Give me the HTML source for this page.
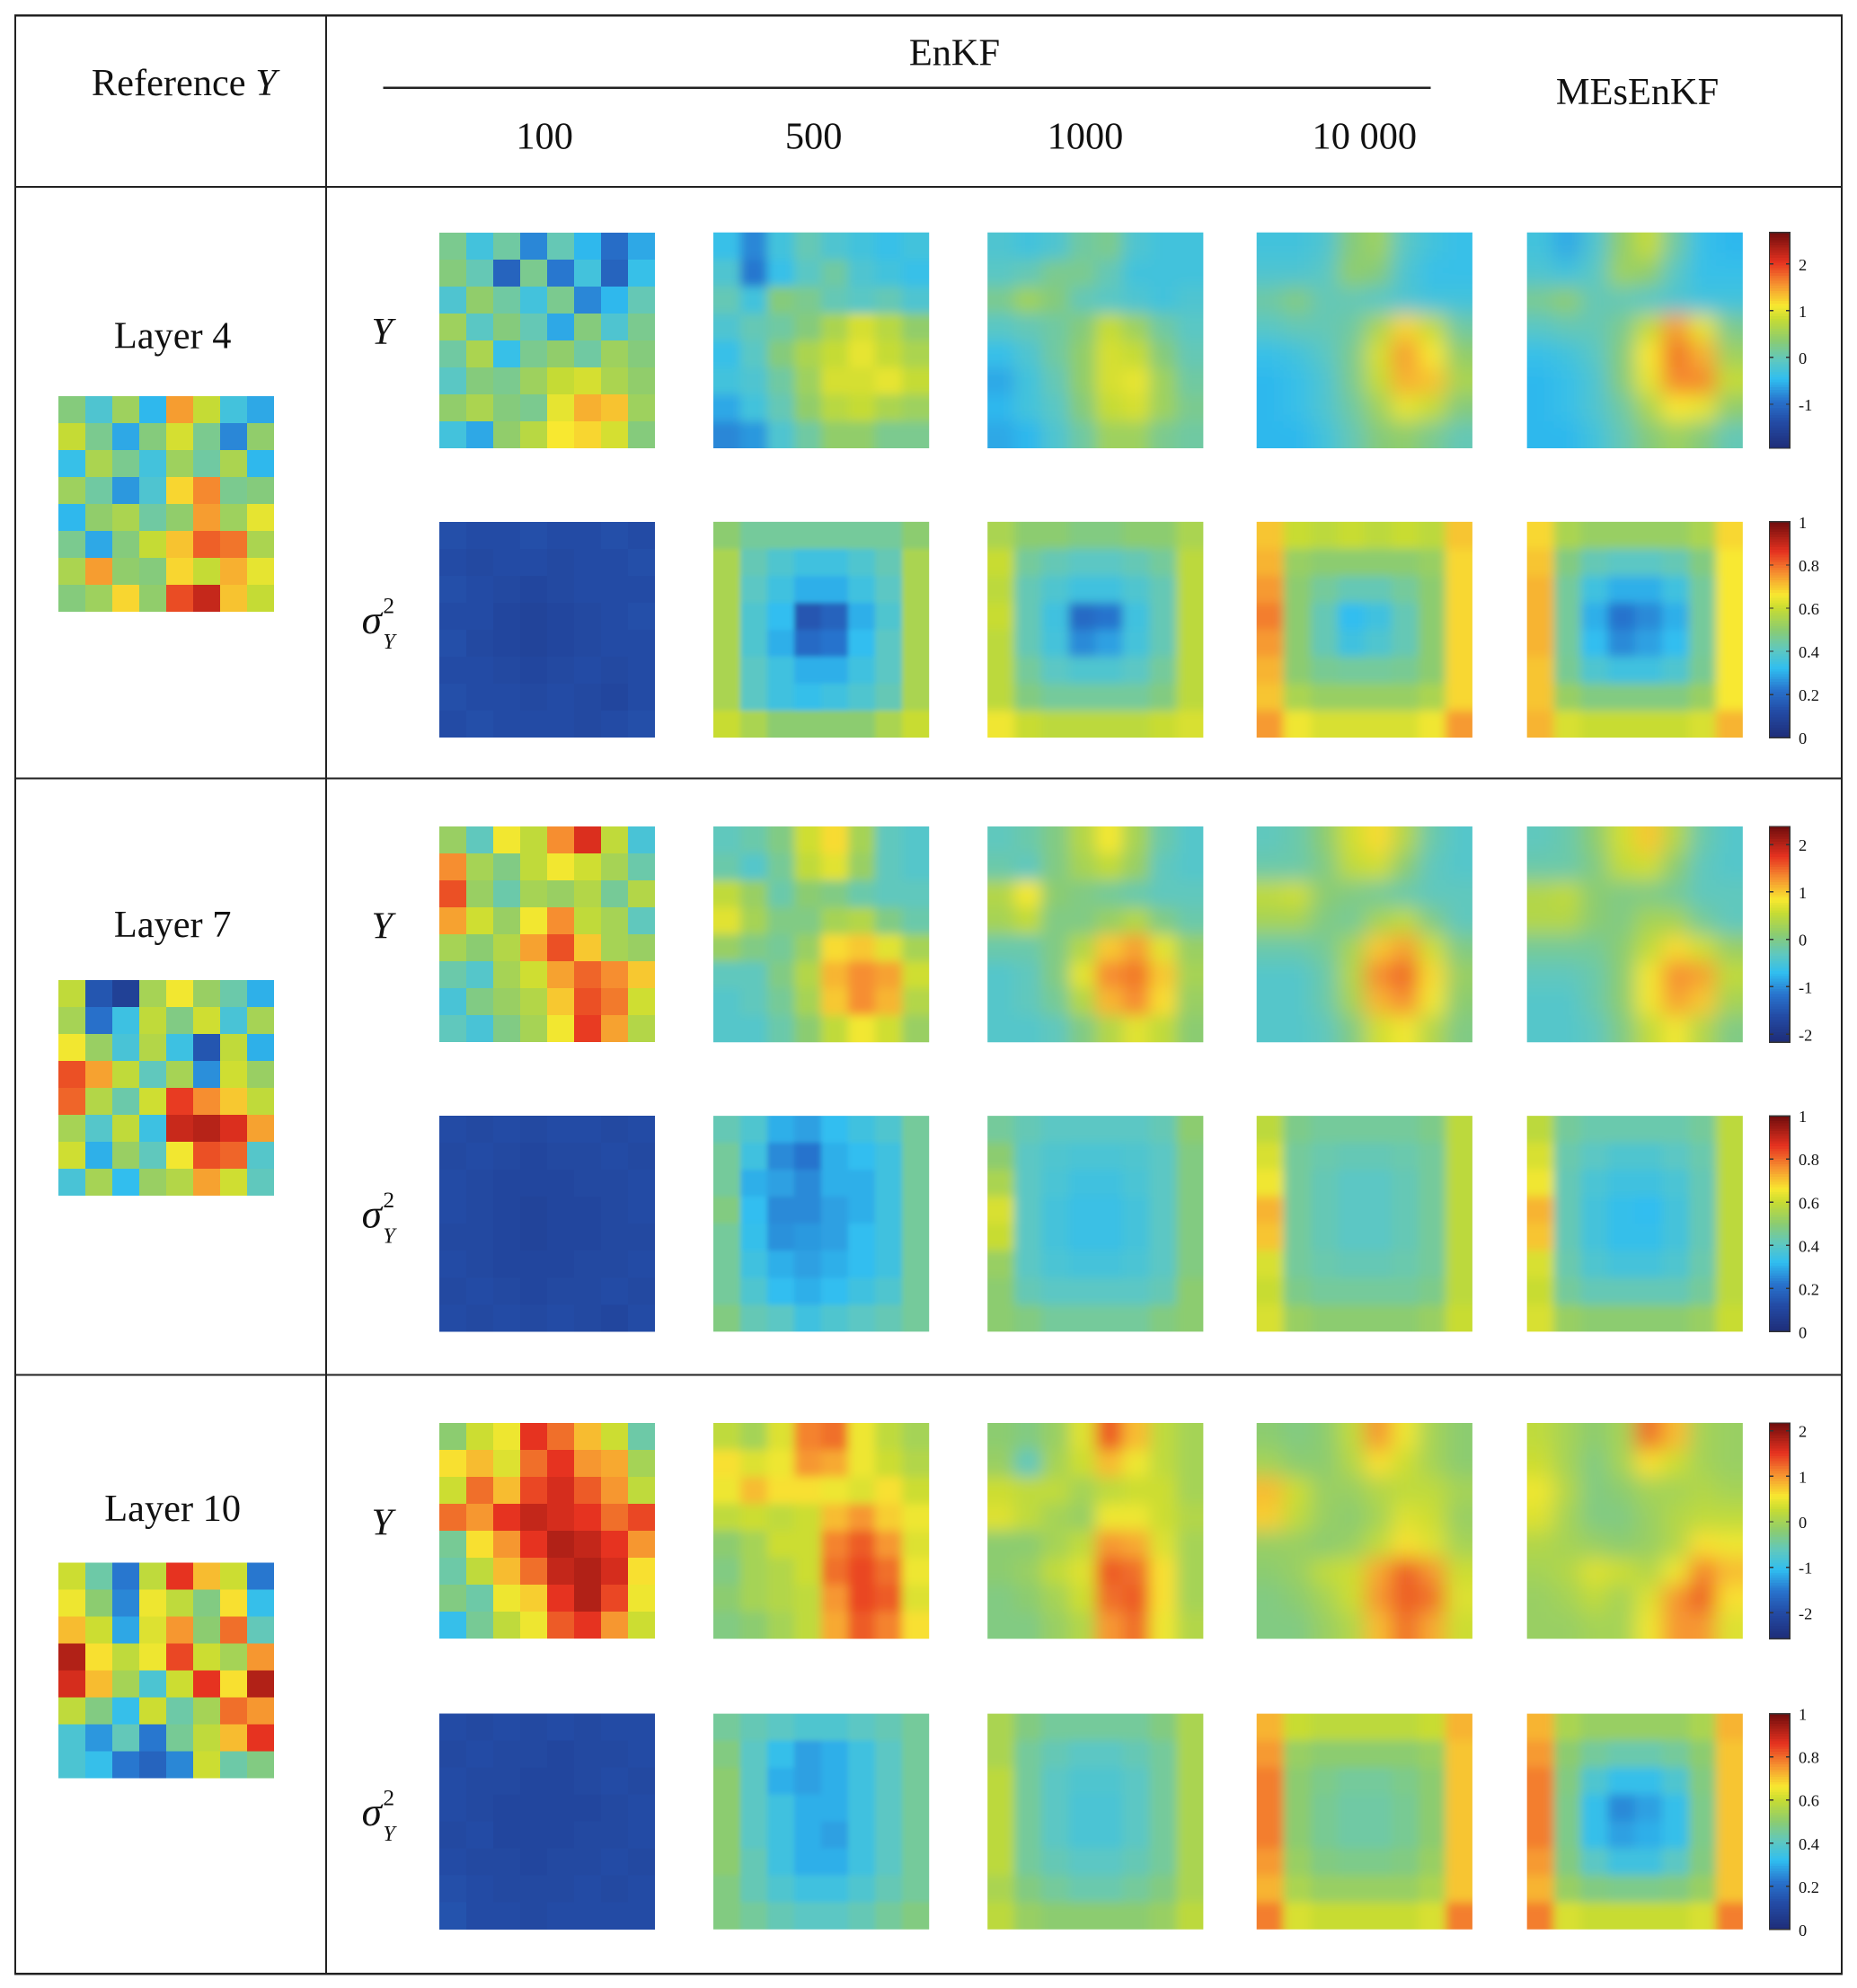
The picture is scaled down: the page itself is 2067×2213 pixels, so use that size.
<!DOCTYPE html>
<html><head><meta charset="utf-8">
<style>
html,body{margin:0;padding:0;background:#fff;}
svg{display:block;}
text{font-family:"Liberation Serif",serif;fill:#111;}
</style></head>
<body>
<svg id="fig" xmlns="http://www.w3.org/2000/svg" width="2067" height="2213" viewBox="0 0 1463 1566" shape-rendering="crispEdges">
<defs id="defs">
<filter id="blur8" x="-20%" y="-20%" width="140%" height="140%"><feGaussianBlur stdDeviation="8"/></filter>
<filter id="blur6" x="-20%" y="-20%" width="140%" height="140%"><feGaussianBlur stdDeviation="6"/></filter>
<filter id="blur4" x="-20%" y="-20%" width="140%" height="140%"><feGaussianBlur stdDeviation="4"/></filter>
<filter id="blur2" x="-20%" y="-20%" width="140%" height="140%"><feGaussianBlur stdDeviation="2"/></filter>
</defs>
<rect x="0" y="0" width="1463" height="1566" fill="#fff"/>
<g stroke="#222" stroke-width="1.5" fill="none">
<rect x="12" y="12" width="1439" height="1543"/>
<line x1="257" y1="12" x2="257" y2="1555"/>
<line x1="12" y1="147" x2="1451" y2="147"/>
<line x1="12" y1="613" x2="1451" y2="613"/>
<line x1="12" y1="1083" x2="1451" y2="1083"/>
<line x1="302" y1="69" x2="1127" y2="69"/>
</g>
<text x="145" y="75" font-size="30" text-anchor="middle">Reference <tspan font-style="italic">Y</tspan></text>
<text x="752" y="51" font-size="30" text-anchor="middle">EnKF</text>
<text x="1290" y="82" font-size="30" text-anchor="middle">MEsEnKF</text>
<text x="429" y="117" font-size="30" text-anchor="middle">100</text>
<text x="641" y="117" font-size="30" text-anchor="middle">500</text>
<text x="855" y="117" font-size="30" text-anchor="middle">1000</text>
<text x="1075" y="117" font-size="30" text-anchor="middle">10 000</text>
<g id="panels"></g>
</svg>
<script>
// ---- data (8x8 estimated grids, rows top->bottom) ----
const layers = ["Layer 4","Layer 7","Layer 10"];
const columns = ["EnKF 100","EnKF 500","EnKF 1000","EnKF 10000","MEsEnKF"];
const yRanges = [[-1.94,2.67],[-2.17,2.38],[-2.57,2.17]];
const yTicks = [[-1,0,1,2],[-2,-1,0,1,2],[-2,-1,0,1,2]];
const varTicks = [0,0.2,0.4,0.6,0.8,1];
const varTickLabels = ["0","0.2","0.4","0.6","0.8","1"];

const ref4 = [0.3,-0.2,0.5,-0.5,1.5,0.8,-0.3,-0.6, 0.8,0.2,-0.6,0.3,0.9,0.2,-0.8,0.4, -0.4,0.6,0.2,-0.3,0.5,0.1,0.6,-0.5, 0.5,0.1,-0.7,-0.2,1.2,1.6,0.2,0.3, -0.5,0.4,0.6,0.1,0.4,1.5,0.5,1.0, 0.2,-0.6,0.3,0.8,1.3,1.8,1.7,0.6, 0.6,1.5,0.4,0.3,1.2,0.8,1.4,1.0, 0.3,0.5,1.2,0.4,1.9,2.2,1.3,0.8];
const ref7 = [0.5,-1.5,-1.8,0.3,0.8,0.2,-0.2,-0.8, 0.3,-1.2,-0.6,0.5,0.0,0.6,-0.5,0.3, 0.8,0.2,-0.5,0.4,-0.6,-1.5,0.5,-0.8, 1.6,1.2,0.5,-0.3,0.3,-1.0,0.6,0.2, 1.5,0.4,-0.2,0.6,1.7,1.3,1.0,0.5, 0.3,-0.4,0.5,-0.6,1.9,2.0,1.8,1.2, 0.6,-0.8,0.2,-0.3,0.8,1.6,1.5,-0.4, -0.5,0.3,-0.7,0.2,0.4,1.2,0.6,-0.3];
const ref10 = [0.3,-0.5,-1.5,0.2,1.5,0.8,0.3,-1.5, 0.5,-0.2,-1.4,0.5,0.2,-0.3,0.6,-1.0, 0.8,0.3,-1.2,0.4,1.0,-0.2,1.2,-0.6, 1.8,0.6,0.2,0.5,1.4,0.3,0.0,1.0, 1.6,0.8,0.0,-0.8,0.3,1.5,0.6,1.8, 0.2,-0.3,-1.0,0.3,-0.5,0.0,1.2,1.0, -0.8,-1.3,-0.6,-1.5,-0.4,0.2,0.8,1.5, -0.8,-1.0,-1.5,-1.7,-1.4,0.3,-0.5,-0.3];

const y4_100 = [0.2,-0.3,0.1,-0.8,0.0,-0.5,-1.0,-0.6, 0.3,0.0,-1.1,0.2,-0.9,-0.3,-1.1,-0.4, -0.2,0.4,0.1,-0.3,0.2,-0.8,-0.5,0.0, 0.5,-0.1,0.3,0.0,-0.6,0.3,-0.2,0.2, 0.1,0.6,-0.4,0.2,0.4,0.1,0.5,0.3, -0.1,0.3,0.2,0.5,0.8,0.9,0.6,0.4, 0.4,0.6,0.3,0.2,1.0,1.4,1.3,0.5, -0.3,-0.6,0.4,0.7,1.1,1.2,0.9,0.3];
const y4_500 = [-0.4,-0.8,-0.3,0.0,-0.2,-0.3,-0.4,-0.3, -0.2,-0.9,-0.4,-0.1,0.1,-0.2,-0.3,-0.4, 0.0,-0.3,0.3,0.2,0.0,-0.1,0.0,-0.2, -0.2,0.0,0.1,0.3,0.6,0.9,0.7,0.4, -0.4,-0.1,0.3,0.6,0.8,1.0,0.8,0.6, -0.3,-0.2,0.1,0.5,0.9,0.9,1.0,0.8, -0.6,-0.3,0.0,0.4,0.7,0.8,0.6,0.5, -0.8,-0.7,-0.2,0.1,0.4,0.4,0.2,0.2];
const y4_1000 = [-0.2,-0.3,-0.2,0.1,0.2,-0.2,-0.3,-0.3, -0.1,0.0,0.2,0.2,0.0,-0.3,-0.3,-0.3, 0.2,0.5,0.3,0.0,-0.1,-0.2,-0.3,-0.2, -0.1,0.0,0.1,0.3,0.8,0.5,0.1,-0.1, -0.4,-0.2,0.1,0.4,0.9,0.8,0.3,0.0, -0.6,-0.3,0.0,0.4,0.9,1.0,0.5,0.1, -0.5,-0.3,-0.1,0.3,0.8,0.9,0.5,0.2, -0.6,-0.5,-0.2,0.1,0.5,0.5,0.2,0.1];
const y4_10k = [-0.3,-0.3,-0.2,0.3,0.5,-0.1,-0.3,-0.4, -0.2,-0.2,-0.1,0.4,0.3,-0.2,-0.4,-0.4, 0.1,0.3,0.0,0.0,-0.1,-0.2,-0.3,-0.3, -0.1,0.0,0.0,0.1,0.6,1.2,0.8,0.1, -0.4,-0.3,-0.1,0.2,0.9,1.5,1.1,0.4, -0.5,-0.4,-0.2,0.2,0.8,1.4,1.3,0.6, -0.5,-0.4,-0.2,0.1,0.5,1.0,0.8,0.3, -0.5,-0.5,-0.3,0.0,0.3,0.4,0.2,0.0];
const y4_mes = [-0.3,-0.6,-0.2,0.4,0.8,0.1,-0.4,-0.5, -0.2,-0.3,-0.1,0.5,0.4,-0.1,-0.4,-0.4, 0.2,0.4,0.0,0.0,-0.1,-0.2,-0.3,-0.3, -0.1,0.0,0.0,0.2,0.8,1.5,1.0,0.2, -0.4,-0.3,-0.1,0.3,1.1,1.7,1.4,0.5, -0.5,-0.4,-0.2,0.3,1.0,1.6,1.6,0.8, -0.5,-0.4,-0.2,0.1,0.6,1.1,1.0,0.4, -0.5,-0.5,-0.3,0.0,0.3,0.5,0.3,0.0];

const y7_100 = [0.2,-0.3,0.8,0.5,1.3,1.8,0.5,-0.5, 1.3,0.3,0.0,0.5,0.8,0.6,0.3,-0.2, 1.6,0.2,-0.2,0.3,0.2,0.4,-0.1,0.4, 1.2,0.6,0.2,0.8,1.3,0.5,0.3,-0.3, 0.3,0.1,0.4,1.2,1.6,1.0,0.3,0.2, -0.2,-0.4,0.3,0.6,1.2,1.5,1.3,1.0, -0.5,0.0,0.2,0.4,1.0,1.6,1.4,0.6, -0.3,-0.5,0.0,0.3,0.8,1.7,1.2,0.4];
const y7_500 = [-0.3,-0.2,0.0,0.6,0.9,0.3,-0.3,-0.4, -0.2,-0.4,-0.1,0.5,0.7,0.2,-0.3,-0.4, 0.5,0.2,-0.2,0.1,0.0,-0.2,-0.3,-0.3, 0.7,0.3,0.0,0.0,0.3,0.4,0.0,-0.2, 0.2,0.0,-0.1,0.2,0.9,1.0,0.7,0.3, -0.3,-0.3,0.0,0.4,1.1,1.3,1.2,0.6, -0.4,-0.3,-0.1,0.3,1.0,1.3,1.1,0.4, -0.4,-0.4,-0.2,0.1,0.5,0.8,0.6,0.2];
const y7_1000 = [-0.3,-0.2,0.0,0.4,0.8,0.3,-0.2,-0.4, -0.2,-0.3,0.0,0.3,0.5,0.2,-0.3,-0.4, 0.4,0.8,0.1,0.0,-0.1,-0.2,-0.3,-0.3, 0.3,0.5,0.0,0.0,0.2,0.4,0.0,-0.2, -0.2,-0.2,0.0,0.4,1.0,1.2,0.7,0.2, -0.4,-0.3,0.0,0.7,1.3,1.4,1.0,0.3, -0.4,-0.3,-0.1,0.4,1.1,1.3,0.9,0.2, -0.4,-0.4,-0.3,0.0,0.4,0.7,0.5,0.1];
const y7_10k = [-0.3,-0.2,0.1,0.6,0.9,0.4,-0.2,-0.4, -0.2,-0.2,0.0,0.5,0.6,0.1,-0.3,-0.4, 0.5,0.6,0.1,0.0,-0.1,-0.2,-0.3,-0.3, 0.3,0.3,0.0,-0.1,0.3,0.5,0.0,-0.3, -0.2,-0.2,-0.1,0.3,1.0,1.2,0.6,0.0, -0.4,-0.4,-0.2,0.4,1.3,1.5,0.9,0.2, -0.4,-0.4,-0.2,0.3,1.1,1.3,0.8,0.1, -0.4,-0.4,-0.3,0.0,0.6,0.8,0.4,0.0];
const y7_mes = [-0.3,-0.2,0.1,0.6,1.0,0.4,-0.2,-0.4, -0.2,-0.2,0.0,0.5,0.6,0.1,-0.3,-0.4, 0.4,0.5,0.1,0.0,0.0,-0.1,-0.3,-0.3, 0.4,0.4,0.1,0.0,0.3,0.3,-0.1,-0.3, -0.1,-0.1,-0.1,0.1,0.5,0.9,0.6,0.2, -0.3,-0.3,-0.2,0.1,0.8,1.3,1.2,0.5, -0.4,-0.4,-0.2,0.1,0.8,1.2,1.0,0.3, -0.4,-0.4,-0.3,0.0,0.5,0.8,0.4,0.0];

const y10_100 = [-0.2,0.3,0.5,1.5,1.2,0.8,0.3,-0.5, 0.6,0.8,0.4,1.2,1.5,1.0,0.9,0.0, 0.3,1.2,0.8,1.4,1.6,1.3,1.0,0.2, 1.2,1.0,1.5,1.7,1.6,1.5,1.2,1.4, -0.4,0.6,1.0,1.5,1.8,1.7,1.5,1.0, -0.5,0.2,0.8,1.2,1.7,1.8,1.6,0.6, -0.3,-0.5,0.5,0.7,1.5,1.8,1.4,0.5, -1.0,-0.4,0.2,0.5,1.3,1.5,1.0,0.3];
const y10_500 = [0.2,0.0,0.4,1.1,1.2,0.5,0.2,0.0, 0.6,0.4,0.5,1.0,0.9,0.5,0.3,0.1, 0.5,0.8,0.6,0.6,0.5,0.4,0.6,0.3, 0.2,0.3,0.2,0.3,0.8,1.0,0.7,0.5, -0.2,0.0,0.3,0.3,1.1,1.3,1.0,0.4, -0.3,0.0,0.1,0.3,1.2,1.4,1.2,0.5, -0.2,0.0,0.1,0.2,1.0,1.4,1.3,0.4, -0.3,-0.2,0.0,0.2,0.9,1.3,1.1,0.6];
const y10_1000 = [-0.2,-0.3,-0.1,0.4,1.3,0.8,0.2,0.0, -0.1,-0.6,0.0,0.3,0.8,0.5,0.2,0.0, 0.3,0.2,0.2,0.0,0.2,0.3,0.3,0.0, 0.4,0.2,0.0,-0.1,0.5,0.5,0.3,0.1, -0.2,-0.2,0.0,0.2,1.0,0.9,0.4,0.0, -0.2,-0.1,0.2,0.4,1.3,1.2,0.6,0.0, -0.3,-0.2,0.0,0.3,1.2,1.3,0.6,0.0, -0.3,-0.3,-0.1,0.1,1.0,1.2,0.5,0.1];
const y10_10k = [-0.2,-0.3,-0.2,0.2,1.0,0.5,0.0,-0.2, 0.0,-0.2,-0.2,0.1,0.6,0.3,0.0,-0.2, 0.8,0.3,-0.1,-0.1,0.1,0.2,0.2,0.0, 0.7,0.2,-0.1,-0.2,0.0,0.4,0.3,-0.1, -0.1,-0.1,-0.2,-0.1,0.2,0.6,0.4,0.0, -0.2,-0.1,0.2,0.3,0.9,1.3,1.0,0.3, -0.3,-0.2,0.0,0.3,1.0,1.3,1.2,0.4, -0.3,-0.3,-0.1,0.1,0.8,1.2,0.9,0.3];
const y10_mes = [0.2,0.0,-0.2,0.0,1.2,0.8,0.0,-0.1, 0.3,0.0,-0.3,0.0,0.6,0.3,0.0,-0.1, 0.5,0.1,-0.3,-0.2,0.0,0.0,0.1,0.0, 0.4,0.0,-0.3,-0.3,-0.1,0.1,0.2,0.2, 0.1,0.0,-0.1,-0.2,-0.1,0.1,0.6,0.5, 0.0,0.1,0.4,0.3,0.1,0.5,1.1,0.8, -0.1,0.0,0.2,0.0,0.4,1.0,1.3,0.6, -0.1,-0.1,0.0,0.0,0.5,1.0,1.0,0.4];

const v4_100 = [.13,.12,.12,.13,.12,.12,.13,.12, .12,.11,.12,.12,.11,.12,.12,.13, .13,.12,.11,.1,.11,.12,.12,.12, .12,.12,.1,.09,.1,.11,.12,.13, .13,.11,.1,.09,.1,.11,.12,.12, .12,.12,.11,.1,.11,.12,.11,.12, .13,.12,.12,.11,.12,.11,.1,.12, .12,.13,.12,.12,.12,.11,.12,.13];
const v4_500 = [.5,.45,.45,.45,.45,.45,.45,.5, .55,.42,.38,.35,.35,.38,.42,.55, .55,.4,.35,.3,.3,.35,.4,.55, .55,.38,.32,.15,.18,.3,.38,.55, .55,.38,.3,.2,.22,.32,.4,.55, .55,.4,.35,.3,.3,.35,.4,.55, .55,.4,.35,.33,.35,.38,.42,.55, .6,.55,.5,.5,.5,.5,.55,.6];
const v4_1000 = [.55,.5,.5,.48,.48,.5,.5,.55, .6,.45,.42,.4,.4,.42,.45,.58, .58,.42,.38,.35,.35,.38,.42,.58, .6,.42,.35,.2,.22,.35,.42,.58, .58,.42,.36,.25,.28,.36,.42,.58, .58,.45,.4,.38,.38,.4,.45,.58, .58,.48,.45,.45,.45,.45,.48,.58, .65,.6,.58,.58,.58,.58,.6,.62];
const v4_10k = [.7,.6,.58,.6,.58,.6,.58,.7, .72,.52,.5,.5,.5,.5,.52,.68, .75,.5,.45,.42,.42,.45,.5,.68, .78,.5,.42,.32,.35,.42,.5,.68, .75,.5,.42,.35,.38,.42,.5,.68, .72,.5,.46,.45,.45,.46,.5,.68, .7,.55,.52,.52,.52,.52,.55,.68, .75,.65,.62,.62,.62,.62,.65,.75];
const v4_mes = [.68,.55,.52,.52,.52,.52,.55,.68, .7,.48,.42,.4,.4,.42,.48,.66, .72,.45,.35,.3,.3,.35,.45,.66, .72,.45,.3,.22,.25,.3,.45,.66, .72,.45,.32,.25,.28,.32,.45,.66, .7,.46,.38,.35,.35,.38,.46,.66, .7,.52,.48,.48,.48,.48,.52,.66, .72,.62,.6,.6,.6,.6,.62,.72];

const v7_100 = [.12,.11,.12,.11,.12,.12,.11,.12, .11,.12,.11,.1,.11,.11,.12,.11, .12,.11,.1,.1,.1,.11,.11,.12, .12,.11,.1,.09,.1,.1,.11,.12, .11,.11,.1,.09,.1,.1,.11,.11, .12,.11,.1,.1,.1,.11,.11,.12, .11,.12,.11,.1,.11,.11,.12,.11, .12,.11,.12,.11,.12,.11,.1,.12];
const v7_500 = [.42,.38,.3,.28,.32,.35,.38,.45, .45,.35,.25,.22,.3,.32,.35,.45, .45,.3,.28,.25,.3,.3,.35,.45, .48,.32,.25,.25,.28,.3,.35,.45, .45,.33,.26,.27,.28,.32,.35,.45, .45,.35,.3,.28,.3,.32,.35,.45, .45,.38,.32,.3,.32,.35,.38,.45, .48,.42,.4,.35,.38,.4,.42,.45];
const v7_1000 = [.45,.42,.4,.4,.4,.4,.42,.5, .5,.4,.38,.37,.37,.38,.4,.48, .55,.4,.37,.35,.35,.37,.4,.48, .62,.4,.36,.34,.34,.36,.4,.48, .6,.4,.36,.34,.34,.36,.4,.48, .52,.4,.37,.36,.36,.37,.4,.48, .5,.42,.4,.4,.4,.4,.42,.5, .5,.48,.45,.45,.45,.45,.48,.5];
const v7_10k = [.58,.47,.45,.45,.45,.45,.47,.58, .62,.45,.43,.42,.42,.43,.45,.58, .65,.45,.42,.4,.4,.42,.45,.58, .72,.45,.42,.4,.4,.42,.45,.58, .7,.45,.42,.4,.4,.42,.45,.58, .62,.45,.43,.42,.42,.43,.45,.58, .6,.47,.45,.45,.45,.45,.47,.58, .62,.52,.5,.5,.5,.5,.52,.6];
const v7_mes = [.58,.45,.43,.43,.43,.43,.45,.58, .62,.43,.4,.38,.38,.4,.43,.58, .65,.42,.37,.35,.35,.37,.42,.58, .72,.42,.36,.33,.32,.36,.42,.58, .7,.42,.36,.33,.33,.36,.42,.58, .62,.43,.38,.36,.36,.38,.43,.58, .6,.45,.42,.42,.42,.42,.45,.58, .62,.52,.5,.5,.5,.5,.52,.6];

const v10_100 = [.12,.11,.12,.11,.12,.11,.12,.12, .11,.12,.11,.11,.1,.11,.11,.12, .12,.11,.11,.1,.1,.11,.12,.11, .12,.11,.1,.1,.1,.1,.11,.12, .11,.12,.1,.1,.1,.11,.11,.12, .12,.11,.11,.1,.11,.11,.12,.11, .13,.12,.11,.11,.11,.12,.11,.12, .14,.12,.12,.11,.12,.12,.12,.12];
const v10_500 = [.45,.42,.4,.38,.38,.4,.42,.45, .48,.4,.33,.28,.3,.35,.4,.45, .5,.4,.3,.28,.3,.35,.4,.45, .5,.4,.35,.3,.3,.35,.4,.45, .5,.4,.35,.3,.28,.35,.4,.45, .5,.42,.35,.3,.3,.35,.4,.45, .48,.42,.38,.35,.35,.38,.42,.45, .48,.45,.42,.4,.4,.42,.45,.48];
const v10_1000 = [.55,.48,.45,.45,.45,.45,.48,.55, .55,.45,.42,.4,.4,.42,.45,.55, .58,.45,.4,.38,.38,.4,.45,.55, .58,.45,.4,.37,.37,.4,.45,.55, .58,.45,.4,.37,.37,.4,.45,.55, .58,.45,.42,.4,.4,.42,.45,.55, .55,.48,.45,.43,.43,.45,.48,.55, .58,.52,.5,.5,.5,.5,.52,.58];
const v10_10k = [.72,.6,.58,.58,.58,.58,.6,.72, .75,.52,.5,.5,.5,.5,.52,.7, .78,.5,.47,.45,.45,.47,.5,.7, .78,.5,.46,.44,.44,.46,.5,.7, .78,.5,.46,.44,.44,.46,.5,.7, .75,.52,.48,.47,.47,.48,.52,.7, .72,.55,.52,.52,.52,.52,.55,.7, .78,.62,.6,.6,.6,.6,.62,.78];
const v10_mes = [.72,.55,.52,.52,.52,.52,.55,.72, .75,.5,.45,.43,.43,.45,.5,.7, .78,.48,.38,.33,.33,.38,.48,.7, .78,.47,.33,.25,.28,.33,.47,.7, .78,.47,.33,.28,.3,.33,.47,.7, .75,.48,.4,.35,.35,.4,.48,.7, .72,.52,.48,.47,.47,.48,.52,.7, .78,.62,.6,.6,.6,.6,.62,.78];

const refData = [ref4, ref7, ref10];
const yData = [[y4_100,y4_500,y4_1000,y4_10k,y4_mes],[y7_100,y7_500,y7_1000,y7_10k,y7_mes],[y10_100,y10_500,y10_1000,y10_10k,y10_mes]];
const vData = [[v4_100,v4_500,v4_1000,v4_10k,v4_mes],[v7_100,v7_500,v7_1000,v7_10k,v7_mes],[v10_100,v10_500,v10_1000,v10_10k,v10_mes]];

// ---- layout ----
const NS = "http://www.w3.org/2000/svg";
const N = 8, S = 170, PAD = 24;
const colX = [346,562,778,990,1203];
const rowTop = [183,651,1121];
const varTop = [411,879,1350];
const refX = 46, refTop = [312,772,1231];
const labelY = [264,728,1188];
const cbX = 1394, cbW = 16;
const yBlur = ["", "blur4", "blur6", "blur8", "blur8"];
const vBlur = ["", "blur2", "blur4", "blur4", "blur4"];

const stops = [[0,[30,45,120]],[0.12,[35,75,165]],[0.22,[40,115,205]],[0.32,[48,190,240]],[0.41,[96,200,190]],[0.5,[140,204,112]],[0.6,[200,220,50]],[0.66,[248,232,48]],[0.76,[246,145,48]],[0.86,[230,50,32]],[1,[110,12,12]]];
function cmap(t){
  t = Math.max(0, Math.min(1, t));
  for (let i = 1; i < stops.length; i++) {
    if (t <= stops[i][0]) {
      const a = stops[i-1], b = stops[i], f = (t - a[0]) / (b[0] - a[0]);
      const c = a[1].map((v,k)=>Math.round(v + (b[1][k]-v)*f));
      return "rgb(" + c.join(",") + ")";
    }
  }
  return "rgb(110,12,12)";
}
const root = document.getElementById("panels");
const defs = document.getElementById("defs");
let clipCount = 0;
function mk(tag, attrs, parent){
  const e = document.createElementNS(NS, tag);
  for (const k in attrs) e.setAttribute(k, attrs[k]);
  (parent||root).appendChild(e);
  return e;
}
function heatmap(x0, y0, data, lo, hi, name, blur){
  const outer = mk("g", {});
  
  
  let g = outer;
  const pad = blur ? PAD : 0;
  if (blur) {
    const id = "clip" + (clipCount++);
    const cp = mk("clipPath", {id:id}, defs);
    mk("rect", {x:x0, y:y0, width:S, height:S}, cp);
    outer.setAttribute('clip-path', 'url(#' + id + ')');
    g = mk("g", {filter:'url(#' + blur + ')'}, outer);
  }
  const c = S / N;
  for (let r = 0; r < N; r++) for (let q = 0; q < N; q++) {
    const v = data[r*N+q];
    let x = x0 + q*c, y = y0 + r*c;
    let w = (q === N-1) ? c : c + 0.6, h = (r === N-1) ? c : c + 0.6;
    if (q === 0) { x -= pad; w += pad; }
    if (q === N-1) { w += pad; }
    if (r === 0) { y -= pad; h += pad; }
    if (r === N-1) { h += pad; }
    const rc = mk("rect", {x:x.toFixed(2), y:y.toFixed(2), width:w.toFixed(2), height:h.toFixed(2), fill:cmap((v-lo)/(hi-lo))}, g);
    
    
  }
}
function colorbar(y0, lo, hi, ticks, labels, name){
  const g = mk("g", {});
  
  
  const steps = 85;
  for (let i = 0; i < steps; i++) {
    const t = 1 - (i + 0.5) / steps;
    mk("rect", {x:cbX, y:(y0 + i*S/steps).toFixed(2), width:cbW, height:(S/steps+0.5).toFixed(2), fill:cmap(t)}, g);
  }
  mk("rect", {x:cbX, y:y0, width:cbW, height:S, fill:"none", stroke:"#333", "stroke-width":1}, g);
  ticks.forEach((tv, i) => {
    const yy = y0 + S - (tv - lo) / (hi - lo) * S;
    mk("line", {x1:cbX, x2:cbX+3, y1:yy, y2:yy, stroke:"#333", "stroke-width":1}, g);
    mk("line", {x1:cbX+cbW-3, x2:cbX+cbW, y1:yy, y2:yy, stroke:"#333", "stroke-width":1}, g);
    const tx = mk("text", {x:cbX+cbW+7, y:yy+5, "font-size":13, "font-family":"Liberation Sans, sans-serif"}, g);
    tx.textContent = labels[i];
    
    
  });
}
layers.forEach((ln, li) => {
  const t = mk("text", {x:136, y:labelY[li]+10, "font-size":30, "text-anchor":"middle"});
  t.textContent = ln;
  
  
  const [lo, hi] = yRanges[li];
  heatmap(refX, refTop[li], refData[li], lo, hi, 'reference-heatmap', "");
  const yl = mk("text", {x:301, y:rowTop[li]+88, "font-size":30, "text-anchor":"middle", "font-style":"italic"});
  yl.textContent = "Y";
  
  
  const sl = mk("text", {x:285, y:varTop[li]+88, "font-size":32, "font-style":"italic"});
  
  
  sl.innerHTML = 'σ<tspan dx="1" dy="-16" font-size="18" font-style="normal">2</tspan><tspan dx="-9" dy="28" font-size="17">Y</tspan>';
  columns.forEach((cn, ci) => {
    heatmap(colX[ci], rowTop[li], yData[li][ci], lo, hi, 'y-heatmap', yBlur[ci]);
    heatmap(colX[ci], varTop[li], vData[li][ci], 0, 1, 'variance-heatmap', vBlur[ci]);
  });
  colorbar(rowTop[li], lo, hi, yTicks[li], yTicks[li].map(String), 'y-colorbar');
  colorbar(varTop[li], 0, 1, varTicks, varTickLabels, 'variance-colorbar');
});
</script>
</body></html>
